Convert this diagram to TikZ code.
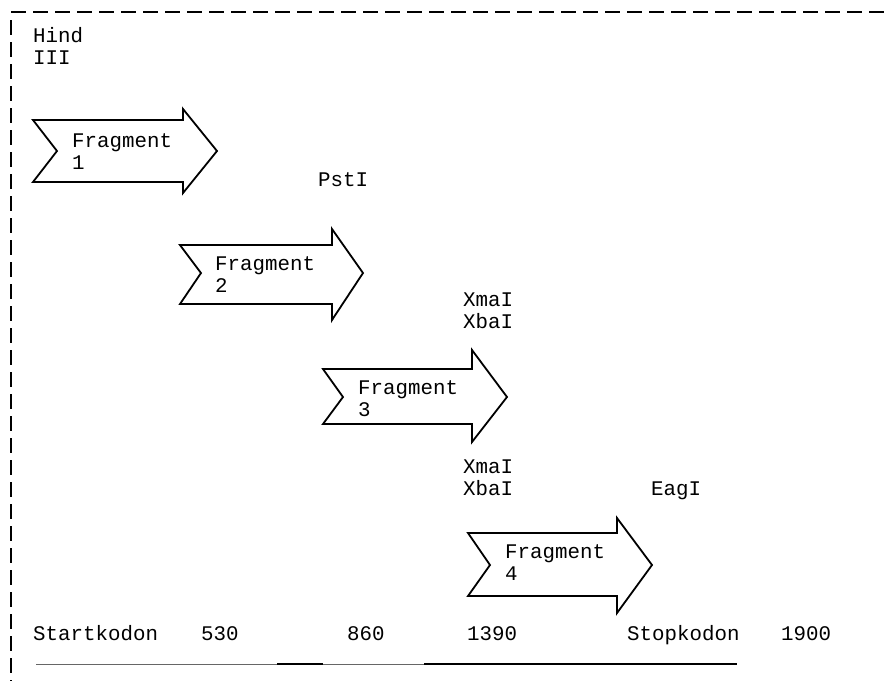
\documentclass[tikz,border=0pt]{standalone}
\usepackage{fontspec}
\setmonofont{Liberation Mono}
\begin{document}
\begin{tikzpicture}[x=1pt,y=-1pt,
  lbl/.style={font=\ttfamily\fontsize{20.8}{22}\selectfont, anchor=base west, inner sep=0pt, align=left, text=black},
  frag/.style={draw=black, line width=1.8pt, line join=miter, fill=white},
  border/.style={line width=2pt, dash pattern=on 15pt off 7pt},
  thinseg/.style={draw=black!60, line width=1pt},
  thickseg/.style={draw=black, line width=2.5pt}]
\fill[white] (0,0) rectangle (890,681);
\useasboundingbox (0,0) rectangle (890,681);
% dashed frame
\draw[border] (11,12) -- (890,12);
\draw[border] (11,20) -- (11,681);
% fragment arrows
\draw[frag] (33,120) -- (183,120) -- (183,109) -- (217,151) -- (183,193) -- (183,182) -- (33,182) -- (57,151) -- cycle;
\draw[frag] (180,245) -- (332,245) -- (332,229) -- (363,273) -- (332,320) -- (332,304) -- (180,304) -- (201,273) -- cycle;
\draw[frag] (323,369) -- (472,369) -- (472,350) -- (507,397) -- (472,442) -- (472,424) -- (323,424) -- (343,397) -- cycle;
\draw[frag] (468,533) -- (617,533) -- (617,518) -- (652,565) -- (617,613) -- (617,596) -- (468,596) -- (490,565) -- cycle;
% labels (multi-line nodes: base = baseline of last line)
\node[lbl] (hind) at (33,64) {Hind\\III};
\node[lbl] (f1) at (72,169) {Fragment\\1};
\node[lbl] (pst) at (318,186) {PstI};
\node[lbl] (f2) at (215,292) {Fragment\\2};
\node[lbl] (xa) at (463,328) {XmaI\\XbaI};
\node[lbl] (f3) at (358,416) {Fragment\\3};
\node[lbl] (xb) at (463,495) {XmaI\\XbaI};
\node[lbl] (eag) at (651,495) {EagI};
\node[lbl] (f4) at (505,580) {Fragment\\4};
\node[lbl] (start) at (33,640) {Startkodon};
\node[lbl] (n530) at (201,640) {530};
\node[lbl] (n860) at (347,640) {860};
\node[lbl] (n1390) at (467,640) {1390};
\node[lbl] (stop) at (627,640) {Stopkodon};
\node[lbl] (n1900) at (781,640) {1900};
% scale line
\draw[thinseg] (36,664) -- (277,664);
\draw[thickseg] (277,664) -- (323,664);
\draw[thinseg] (323,664) -- (424,664);
\draw[thickseg] (424,664) -- (737,664);
\end{tikzpicture}
\end{document}
